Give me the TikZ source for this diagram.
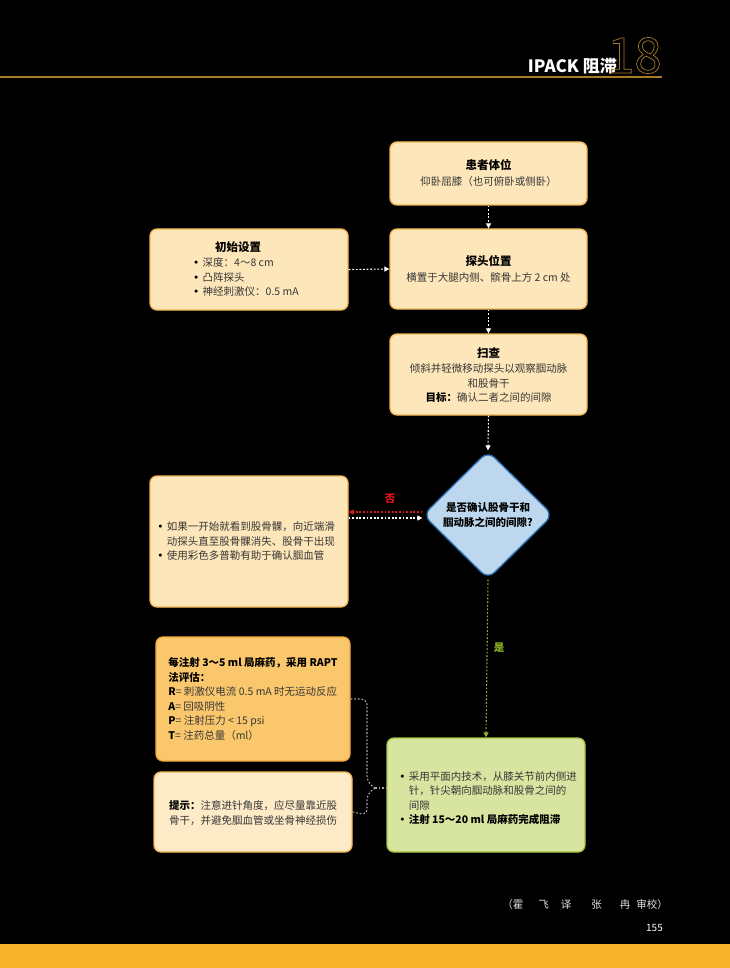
\documentclass[tikz,border=0pt]{standalone}
\usepackage{fontspec}
\setmainfont{Noto Sans CJK SC}
\newfontfamily\dejavu{DejaVu Sans}
\usetikzlibrary{shapes.geometric,arrows.meta}
\definecolor{pfill}{RGB}{253,230,185}
\definecolor{pborder}{RGB}{242,182,84}
\definecolor{ofill}{RGB}{250,199,108}
\definecolor{oborder}{RGB}{240,168,58}
\definecolor{tfill}{RGB}{253,234,199}
\definecolor{gfill}{RGB}{216,229,160}
\definecolor{gborder}{RGB}{168,198,64}
\definecolor{bfill}{RGB}{189,215,238}
\definecolor{bborder}{RGB}{46,117,182}
\definecolor{gold}{RGB}{166,124,42}
\definecolor{band}{RGB}{248,181,43}
\definecolor{txt}{RGB}{55,55,55}
\definecolor{yesgreen}{RGB}{141,180,40}
\definecolor{noRed}{RGB}{225,20,20}
\newcommand\bul{\makebox[9.5pt][l]{{\dejavu\color{black}•}}}
\newcommand\ind{\hspace*{9.5pt}}
\tikzset{
  box/.style={draw=pborder, fill=pfill, rounded corners=7pt, line width=1.3pt, inner sep=0pt},
  body/.style={text=txt, font=\fontsize{10.5}{14.5}\selectfont, align=center, inner sep=0pt},
  conn/.style={draw=white, line width=1.1pt, dash pattern=on 1.8pt off 1.8pt, -{Triangle[length=5pt,width=5pt]}},
  brace/.style={draw=gray!70, line width=1.1pt, dash pattern=on 1.8pt off 1.8pt, rounded corners=6pt},
}
\begin{document}
\begin{tikzpicture}[x=1pt,y=-1pt]
\useasboundingbox (0,0) rectangle (730,968);
\fill[black] (0,0) rectangle (730,968);
\fill[band] (0,944) rectangle (730,968);
% header
\draw[gold, line width=1.3pt] (0,77) coordinate (hl) -- (662,77) coordinate (hr);
\node[anchor=base east, text=white, font=\fontsize{17}{17}\selectfont\bfseries, inner sep=0pt] (hdr) at (617,72.5) {IPACK 阻滞};
\node[anchor=base west, text=gold, font=\fontsize{49}{49}\selectfont, inner sep=0pt] (num) at (607,73) {\special{pdf:literal direct 1 Tr 0.7 w}18\special{pdf:literal direct 0 Tr}};
% boxes
\node[box, minimum width=197, minimum height=63] (b1) at (488.5,173.5) {};
\node[body] (t1) at (488.5,173) {{\fontsize{11.5}{15}\selectfont\bfseries\color{black}患者体位}\\[2pt]仰卧屈膝（也可俯卧或侧卧）};
\node[box, minimum width=197, minimum height=80] (b2) at (488.5,269) {};
\node[body] (t2) at (488.5,269) {{\fontsize{11.5}{15}\selectfont\bfseries\color{black}探头位置}\\[2pt]横置于大腿内侧、髌骨上方 2 cm 处};
\node[box, minimum width=197, minimum height=81] (b3) at (488.5,374.5) {};
\node[body] (t3) at (488.5,375) {{\fontsize{11.5}{15}\selectfont\bfseries\color{black}扫查}\\[1pt]倾斜并轻微移动探头以观察腘动脉\\和股骨干\\{\bfseries\color{black}目标：}确认二者之间的间隙};
\node[box, minimum width=198, minimum height=81] (b4) at (249,269.5) {};
\node[body, align=left] (t4) at (246,269) {\hspace*{22pt}{\fontsize{11.5}{15}\selectfont\bfseries\color{black}初始设置}\\[1pt]\bul 深度：4～8 cm\\\bul 凸阵探头\\\bul 神经刺激仪：0.5 mA};
% diamond
\node[diamond, draw=bborder, fill=bfill, line width=1.3pt, minimum width=130, minimum height=128, inner sep=0pt, rounded corners=9pt] (dia) at (488,515) {};
\node[body, font=\fontsize{10.5}{14.5}\selectfont\bfseries, text=black] (td) at (488,515) {是否确认股骨干和\\腘动脉之间的间隙?};
% left box
\node[box, minimum width=198, minimum height=131] (lb) at (249,541.5) {};
\node[body, align=left] (tl) at (246,541.5) {\bul 如果一开始就看到股骨髁，向近端滑\\\ind 动探头直至股骨髁消失、股骨干出现\\\bul 使用彩色多普勒有助于确认腘血管};
% RAPT box
\node[box, draw=oborder, fill=ofill, minimum width=194, minimum height=124] (rb) at (253,699) {};
\node[body, align=left] (tr) at (253,699) {{\bfseries\color{black}每注射 3～5 ml 局麻药，采用 RAPT}\\{\bfseries\color{black}法评估：}\\{\color{black}\bfseries R}= 刺激仪电流 0.5 mA 时无运动反应\\{\color{black}\bfseries A}= 回吸阴性\\{\color{black}\bfseries P}= 注射压力 < 15 psi\\{\color{black}\bfseries T}= 注药总量（ml）};
% tip box
\node[box, fill=tfill, minimum width=198, minimum height=80] (tb) at (253,812) {};
\node[body, align=left] (tt) at (253,813) {{\bfseries\color{black}提示：}注意进针角度，应尽量靠近股\\骨干，并避免腘血管或坐骨神经损伤};
% green box
\node[box, draw=gborder, fill=gfill, minimum width=198, minimum height=114] (gb) at (486,795) {};
\node[body, align=left] (tg) at (488,798) {\bul 采用平面内技术，从膝关节前内侧进\\\ind 针，针尖朝向腘动脉和股骨之间的\\\ind 间隙\\\bul {\bfseries\color{black}注射 15～20 ml 局麻药完成阻滞}};
% connectors
\draw[conn] (b1.south) -- (b2.north);
\draw[conn] (b4.east) -- (b2.west);
\draw[conn] (b2.south) -- (b3.north);
\draw[conn] (b3.south) -- (dia.north);
\draw[conn, draw=noRed] ([yshift=3pt]dia.west) -- ([yshift=3pt]dia.west -| lb.east);
\draw[conn] ([yshift=-3pt]dia.west -| lb.east) -- ([yshift=-3pt]dia.west);
\node[text=noRed, font=\fontsize{10.5}{12}\selectfont\bfseries, inner sep=0pt] (no) at (390,499) {否};
\draw[conn, draw=yesgreen] (dia.south) -- (gb.north);
\node[text=yesgreen, font=\fontsize{10.5}{12}\selectfont\bfseries, inner sep=0pt] (yes) at (499,648) {是};
% brace
\coordinate (join) at (375,788);
\draw[brace] (rb.east) -- (367,699) -- (367,782) -- (join);
\draw[brace] (tb.east) -- (367,815) -- (367,794) -- (join);
\draw[brace, rounded corners=0pt] (join) -- (join -| gb.west);
% footer
\node[anchor=east, text=white!88!black, font=\fontsize{10.5}{12}\selectfont, inner sep=0pt] (credit) at (668,904) {（霍\hspace{15pt}飞\hspace{12pt}译\hspace{20pt}张\hspace{18pt}冉\hspace{6pt}审校）};
\node[anchor=east, text=white, font=\fontsize{10}{12}\selectfont, inner sep=0pt] (page) at (663,928) {155};
\end{tikzpicture}
\end{document}
